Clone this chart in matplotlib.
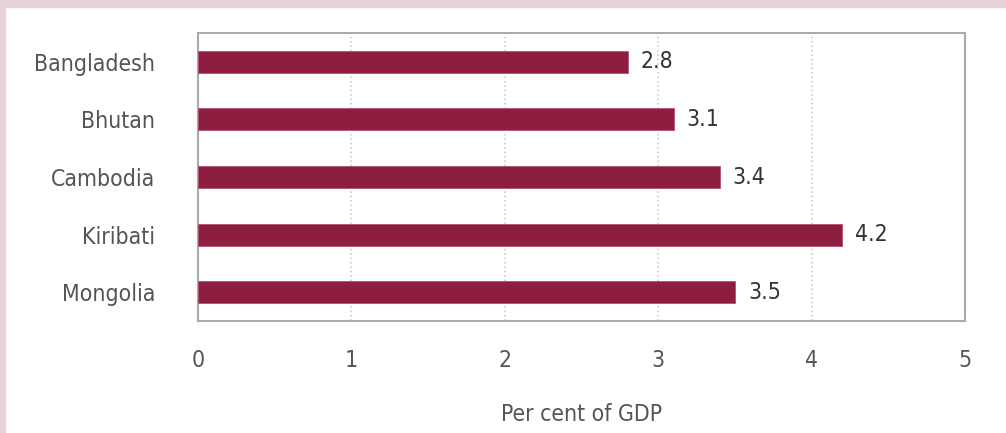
import matplotlib
matplotlib.use('Agg')
import matplotlib.pyplot as plt
from matplotlib.patches import Rectangle

FONT = ['DejaVu Sans']
FONT_SIZE = 16.5
BAR_COLOR = '#8E1E3F'

countries = ['Bangladesh', 'Bhutan', 'Cambodia', 'Kiribati', 'Mongolia']
values = [2.8, 3.1, 3.4, 4.2, 3.5]
x_ticks = [0, 1, 2, 3, 4, 5]

plt.rcParams['font.family'] = FONT
plt.rcParams['font.stretch'] = 'condensed'

fig = plt.figure(figsize=(10.06, 4.33), dpi=100)
fig.patch.set_facecolor('white')

# pink frame on left and top
fig.patches.append(Rectangle((0, 0), 5 / 1006, 1, transform=fig.transFigure,
                             color='#E8D3D9', zorder=0))
fig.patches.append(Rectangle((0, 1 - 7 / 433), 1, 7 / 433, transform=fig.transFigure,
                             color='#E8D3D9', zorder=0))

ax = fig.add_axes([198 / 1006, 112 / 433, 767 / 1006, 288 / 433])

ypos = range(len(countries))
ax.barh(ypos, values, height=0.38, color=BAR_COLOR, edgecolor='#B5526E',
        linewidth=0.6, zorder=3)

for y, v in zip(ypos, values):
    ax.text(v + 0.085, y, '%.1f' % v, va='center', ha='left',
            fontsize=FONT_SIZE, color='#333333', zorder=4)

ax.set_xlim(0, 5)
ax.set_ylim(len(countries) - 0.5, -0.5)
ax.set_xticks(x_ticks)
ax.set_xticklabels([str(t) for t in x_ticks])
ax.set_yticks(list(ypos))
ax.set_yticklabels(countries)

ax.tick_params(axis='both', length=0, labelsize=FONT_SIZE, colors='#555555')
ax.tick_params(axis='y', pad=31)
ax.tick_params(axis='x', pad=20)

ax.xaxis.grid(True, linestyle=':', color='#CCCCCC', linewidth=1.2, zorder=0)
ax.set_axisbelow(True)

for s in ax.spines.values():
    s.set_color('#AAAAAA')
    s.set_linewidth(1.5)

ax.set_xlabel('Per cent of GDP', fontsize=FONT_SIZE, color='#555555')
ax.xaxis.set_label_coords(0.5, -0.285)

fig.savefig('out.png', dpi=100)
